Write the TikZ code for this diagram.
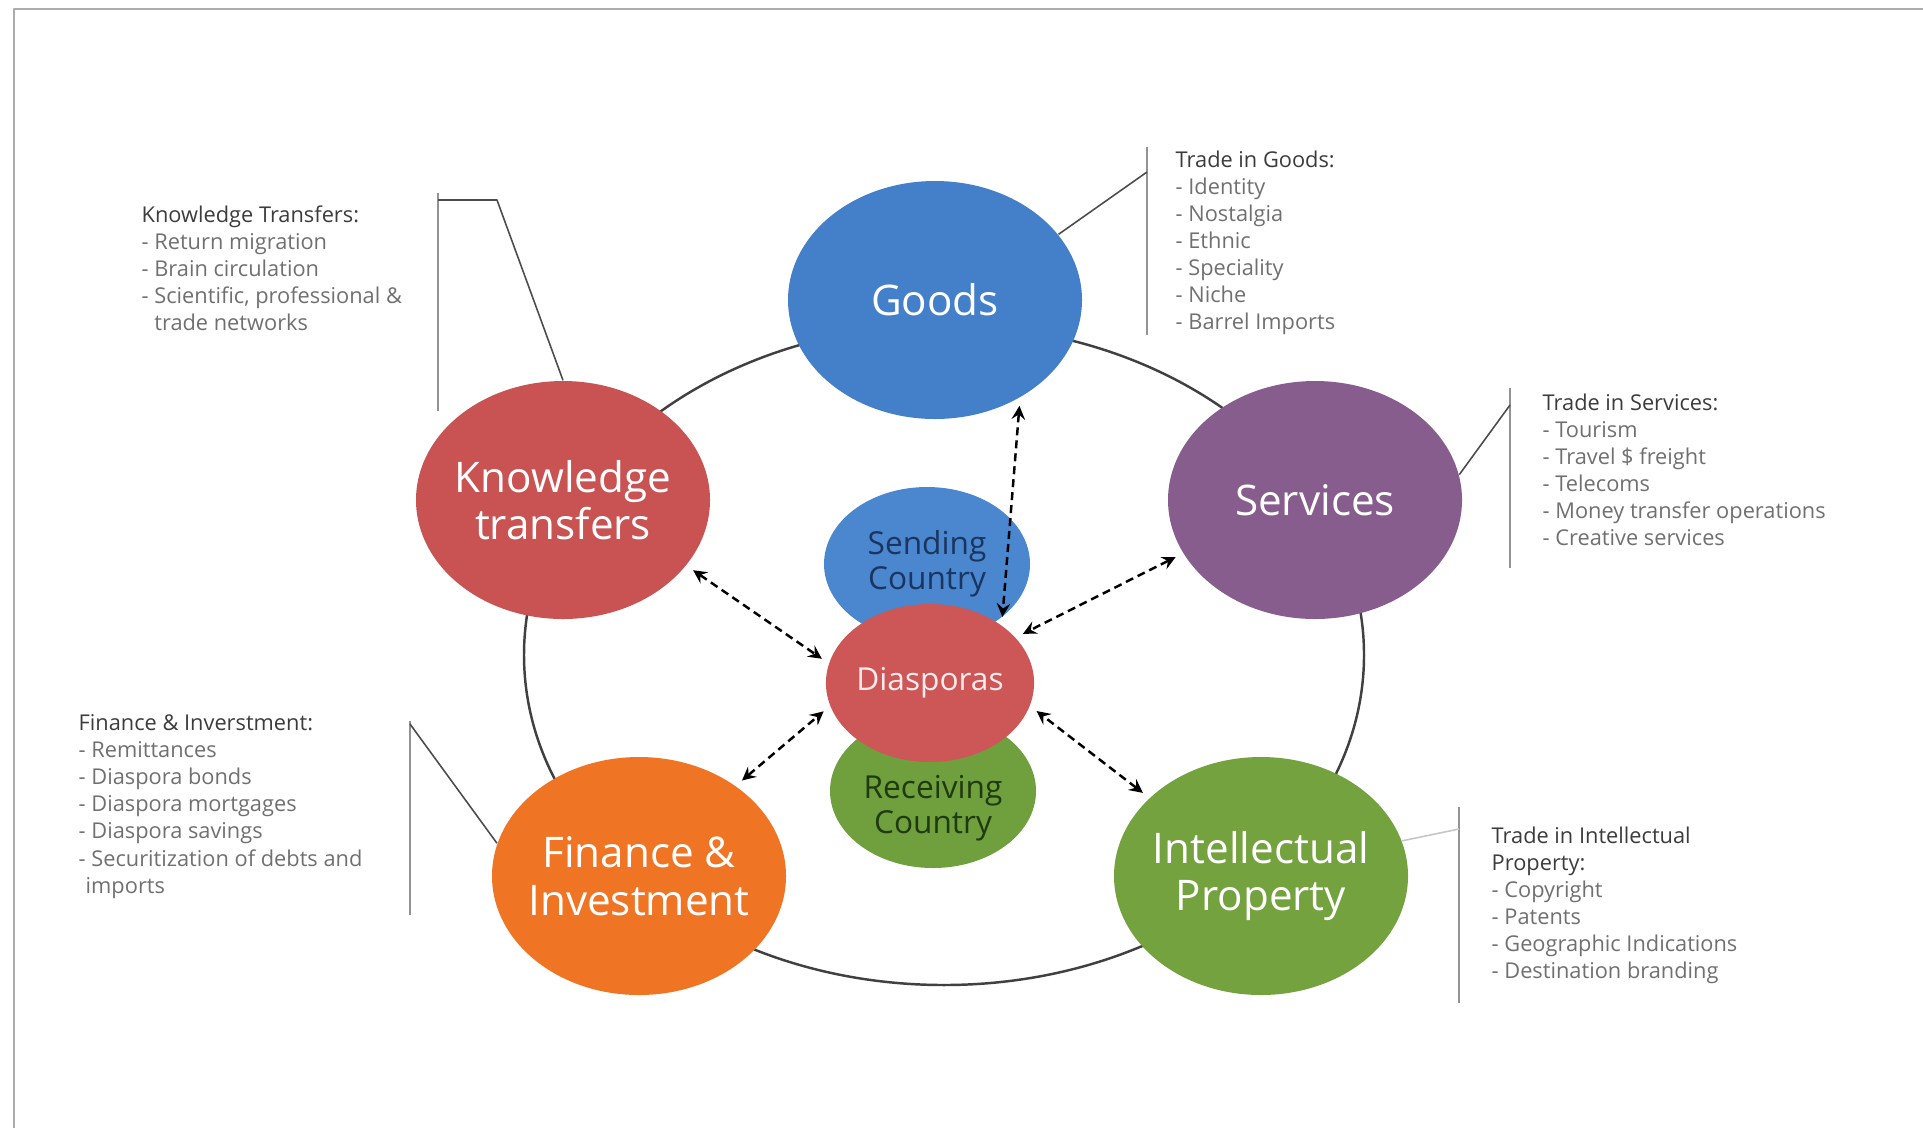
\documentclass[tikz,border=0pt]{standalone}
\usepackage{fontspec}
\setmainfont{Open Sans}
\usetikzlibrary{shapes.geometric}
\definecolor{goodsblue}{HTML}{4480CA}
\definecolor{knowred}{HTML}{C95353}
\definecolor{servpurple}{HTML}{875D8E}
\definecolor{finorange}{HTML}{EF7424}
\definecolor{ipgreen}{HTML}{74A23E}
\definecolor{sendblue}{HTML}{4A87CF}
\definecolor{sendtext}{HTML}{1A3560}
\definecolor{recvgreen}{HTML}{6FA03D}
\definecolor{recvtext}{HTML}{1F3A0E}
\definecolor{diared}{HTML}{CD5656}
\definecolor{headgray}{HTML}{3C3C3C}
\definecolor{itemgray}{HTML}{707070}
\newcommand\notefont{\fontsize{6.2}{7.7}\selectfont}
\newcommand\head[1]{\textcolor{headgray}{#1}}

\begin{document}
\begin{tikzpicture}[line join=round, >=stealth,
  hub/.style={ellipse, minimum width=2.94cm, minimum height=2.38cm, inner sep=-3pt, align=center, text=white, font=\fontsize{12}{13.5}\selectfont},
  core/.style={ellipse, minimum width=2.06cm, minimum height=1.54cm, inner sep=0pt, align=center, font=\fontsize{9}{10.1}\selectfont},
  link/.style={<->, dash pattern=on 0.08cm off 0.05cm, line width=0.7pt, shorten <=0.08cm, shorten >=0.08cm},
  note/.style={anchor=north west, inner sep=0pt, align=left, text=itemgray, font=\notefont},
  rule/.style={draw=gray!85, line width=0.6pt},
  lead/.style={draw=black!70, line width=0.45pt}]
\useasboundingbox (0,0) rectangle (19.23,-11.28);
% page frame
\draw[gray!65, line width=0.8pt] (19.23,-0.09) -- (0.14,-0.09) -- (0.14,-11.28);
% ring through the five channels
\draw[black!75, line width=0.7pt] (9.44,-6.55) ellipse [x radius=4.20, y radius=3.30];

% centre stack
\node[core, fill=sendblue, text=sendtext] (send) at (9.27,-5.64) {Sending\\Country};
\node[core, fill=recvgreen, label={[yshift=-0.17cm, text=recvtext, align=center, font=\fontsize{9}{10.1}\selectfont]center:Receiving\\Country}] (recv) at (9.33,-7.91) {};
\node[core, fill=diared, text=white!92!red, minimum height=1.58cm] (dias) at (9.30,-6.83) {Diasporas};

% channels
\node[hub, fill=goodsblue] (goods) at (9.35,-3.00) {Goods};
\node[hub, fill=knowred] (know) at (5.63,-5.00) {Knowledge\\transfers};
\node[hub, fill=servpurple] (serv) at (13.15,-5.00) {Services};
\node[hub, fill=finorange] (fin) at (6.39,-8.76) {Finance \&\\Investment};
\node[hub, fill=ipgreen] (ip) at (12.61,-8.76) {Intellectual\\Property};

\draw[link] (know.-28) -- (dias.169);
\draw[link] (goods.-49) -- (dias.39);
\draw[link] (serv.202) -- (dias.28);
\draw[link] (fin.43) -- (dias.193);
\draw[link] (ip.145) -- (dias.-13);

% brackets beside the notes
\foreach \x/\t/\b in {4.38/1.93/4.11, 11.47/1.47/3.35, 15.10/3.88/5.68, 4.10/7.21/9.15, 14.59/8.07/10.03}
  \draw[rule] (\x,-\t) -- (\x,-\b);
\coordinate (kbend) at (4.97,-2.00);
\coordinate (kbar) at (4.38,-2.00);
\coordinate (gbar) at (11.47,-1.72);
\coordinate (sbar) at (15.10,-4.05);
\coordinate (fbar) at (4.10,-7.24);
\coordinate (ibar) at (14.59,-8.29);
\draw[lead] (kbar) -- (kbend) -- (know.north);
\draw[lead] (gbar) -- (goods.28);
\draw[lead] (sbar) -- (serv.10);
\draw[lead] (fbar) -- (fin.167);
\draw[gray!45, line width=0.45pt] (ip.14) -- (ibar);

% notes
\node[note] (knote) at (1.41,-2.05) {\head{Knowledge Transfers:}\\- Return migration\\- Brain circulation\\- Scientific, professional \&\\\hphantom{- }trade networks};
\node[note] (gnote) at (11.75,-1.50) {\head{Trade in Goods:}\\- Identity\\- Nostalgia\\- Ethnic\\- Speciality\\- Niche\\- Barrel Imports};
\node[note] (snote) at (15.42,-3.93) {\head{Trade in Services:}\\- Tourism\\- Travel \$ freight\\- Telecoms\\- Money transfer operations\\- Creative services};
\node[note] (fnote) at (0.78,-7.14) {\head{Finance \& Inverstment:}\\- Remittances\\- Diaspora bonds\\- Diaspora mortgages\\- Diaspora savings\\- Securitization of debts and\\\hphantom{-}imports};
\node[note] (inote) at (14.91,-8.26) {\head{Trade in Intellectual}\\\head{Property:}\\- Copyright\\- Patents\\- Geographic Indications\\- Destination branding};
\end{tikzpicture}
\end{document}
